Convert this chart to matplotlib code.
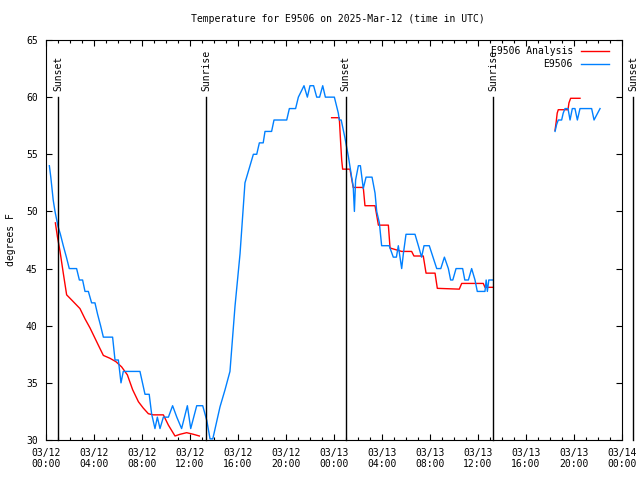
import datetime as dt

import numpy as np
import matplotlib
matplotlib.use('Agg')
from matplotlib import pyplot as plt
import matplotlib.dates as mdates

nan = float('nan')
start = dt.datetime(2025, 3, 12, 0, 0)

# observed station temps, hours after 03/12 00:00 UTC (nan = gap)
obs_hours = [0.28, 0.4, 0.6, 0.75, 1.0, 1.2, 1.44, 1.7, 1.94, 2.55, 2.78, 3.05, 3.25, 3.53, 3.8, 4.08,
             4.3, 4.55, 4.78, 5.55, 5.75, 6.03, 6.25, 6.44, 7.83, 8.25, 8.6, 8.8, 9.08, 9.28, 9.5, 9.78,
             10.2, 10.55, 10.9, 11.3, 11.78, 12.06, 12.56, 13.06, 13.4, 13.67, 13.9, 14.5, 14.92, 15.33,
             15.75, 16.17, 16.44, 16.58, 16.86, 17.28, 17.56, 17.78, 18.1, 18.25, 18.8, 19.0, 20.06,
             20.28, 20.8, 21.03, 21.5, 21.78, 22.0, 22.3, 22.56, 22.8, 23.06, 23.28, 24.03, 24.36, 24.44,
             24.6, 24.9, 25.2, 25.47, 25.6, 25.7, 25.8, 26.03, 26.2, 26.44, 26.67, 27.17, 27.42, 27.56,
             27.78, 27.97, 28.6, 28.94, 29.2, 29.36, 29.64, 29.78, 30.0, 30.75, 31.03, 31.3, 31.5, 31.94,
             32.56, 32.9, 33.2, 33.53, 33.72, 33.9, 34.17, 34.72, 34.9, 35.2, 35.47, 35.75, 35.94, 36.44,
             36.58, 36.68, 36.78, 36.9, 37.2,
             40.0,
             42.42, 42.55, 42.69, 42.97, 43.1, 43.25, 43.5, 43.67, 43.86, 44.08, 44.28, 44.5, 45.47,
             45.67, 46.17]
obs_temp = [54, 53, 51, 50, 48.7, 48, 47, 46, 45, 45, 44, 44, 43, 43, 42, 42,
            41, 40, 39, 39, 37, 37, 35, 36, 36, 34, 34, 32.3, 31, 32, 31, 32,
            32, 33, 32, 31, 33, 31, 33, 33, 31.7, 30.1, 30.1, 32.9, 34.4, 36,
            41.7, 46.3, 50.4, 52.5, 53.5, 55, 55, 56, 56, 57, 57, 58, 58,
            59, 59, 60, 61, 60, 61, 61, 60, 60, 61, 60, 60, 58.6, 58,
            58, 56.5, 54.8, 53, 52.2, 50, 52.75, 54, 54, 52, 53, 53, 51.6, 50,
            49, 47, 47, 46, 46, 47, 45, 46.3, 48, 48, 47, 46, 47, 47,
            45, 45, 46, 45, 44, 44, 45, 45, 44, 44, 45, 44, 43, 43,
            43, 44, 43, 44, 44,
            nan,
            57, 57.6, 58, 58, 58.6, 59, 59, 58, 59, 59, 58, 59, 59,
            58, 59]

# analysis temps
ana_hours = [0.78, 0.95, 1.17, 1.44, 1.72, 2.14, 2.83, 3.25, 3.67, 4.36, 4.78, 5.33, 5.83, 6.3, 6.78,
             7.22, 7.7, 8.1, 8.53, 8.94, 9.78, 10.2, 10.75, 11.17, 11.72, 12.28, 12.78,
             18.0,
             23.8, 24.44, 24.55, 24.64, 24.72, 25.33, 25.6, 26.44, 26.58, 27.42, 27.7, 28.53, 28.67,
             29.64, 30.47, 30.66, 31.44, 31.67, 32.42, 32.61, 34.44, 34.64, 36.44, 36.58, 37.28,
             40.0,
             42.42, 42.5, 42.6, 42.69, 43.05, 43.5, 43.58, 43.72, 44.5]
ana_temp = [49, 47.8, 46.5, 44.6, 42.7, 42.25, 41.5, 40.6, 39.8, 38.3, 37.4, 37.15, 36.85, 36.4, 35.7,
            34.4, 33.35, 32.8, 32.3, 32.2, 32.2, 31.3, 30.35, 30.5, 30.64, 30.5, 30.35,
            nan,
            58.2, 58.2, 56.1, 54.5, 53.7, 53.7, 52.1, 52.1, 50.5, 50.5, 48.8, 48.8, 46.8,
            46.5, 46.5, 46.1, 46.1, 44.6, 44.6, 43.27, 43.2, 43.7, 43.7, 43.36, 43.36,
            nan,
            57.1, 57.7, 58.6, 58.9, 58.9, 58.9, 59.5, 59.9, 59.9]

sun_hours = [1.0, 13.36, 24.97, 37.28, 48.94]
sun_labels = ['Sunset', 'Sunrise', 'Sunset', 'Sunrise', 'Sunset']

plt.rcParams['font.family'] = 'DejaVu Sans Mono'
plt.rcParams['font.size'] = 7

to_dt = lambda hs: [start + dt.timedelta(hours=h) for h in hs]

fig = plt.figure(figsize=(6.4, 4.8), dpi=100)
ax = fig.add_axes([46 / 640, 40 / 480, 576 / 640, 400 / 480])

ax.plot(to_dt(ana_hours), ana_temp, color='#ff0000', lw=1.0, label='E9506 Analysis')
ax.plot(to_dt(obs_hours), obs_temp, color='#0080ff', lw=1.0, label='E9506')

for h, lab in zip(sun_hours, sun_labels):
    t = start + dt.timedelta(hours=h)
    ax.plot([t, t], [30, 60], color='black', lw=1.0, clip_on=False)
    ax.text(t, 60.5, lab, rotation=90, ha='center', va='bottom', clip_on=False)

ax.set_xlim(start, start + dt.timedelta(hours=48))
ax.set_ylim(30, 65)
ax.set_yticks(np.arange(30, 66, 5))
ax.xaxis.set_major_locator(mdates.HourLocator(byhour=range(0, 24, 4)))
ax.xaxis.set_minor_locator(mdates.HourLocator())
ax.xaxis.set_major_formatter(mdates.DateFormatter('%m/%d\n%H:%M'))
ax.tick_params(which='both', direction='in', top=True, right=True, width=0.8)
ax.tick_params(which='major', length=4.5)
ax.tick_params(which='minor', length=2.5)
ax.tick_params(axis='x', pad=6)
ax.tick_params(axis='y', pad=6)
for lbl in ax.get_xticklabels():
    lbl.set_linespacing(1.1)
for s in ax.spines.values():
    s.set_linewidth(0.8)

ax.set_ylabel('degrees F', labelpad=7)
fig.text(338 / 640, 1 - 19 / 480, 'Temperature for E9506 on 2025-Mar-12 (time in UTC)',
         ha='center', va='center')

ax.legend(loc='upper right', bbox_to_anchor=(0.978, 0.985), frameon=False, markerfirst=False,
          handlelength=2.9, handletextpad=0.85, labelspacing=0.3, borderaxespad=0, borderpad=0)

fig.savefig('out.png', dpi=100)
